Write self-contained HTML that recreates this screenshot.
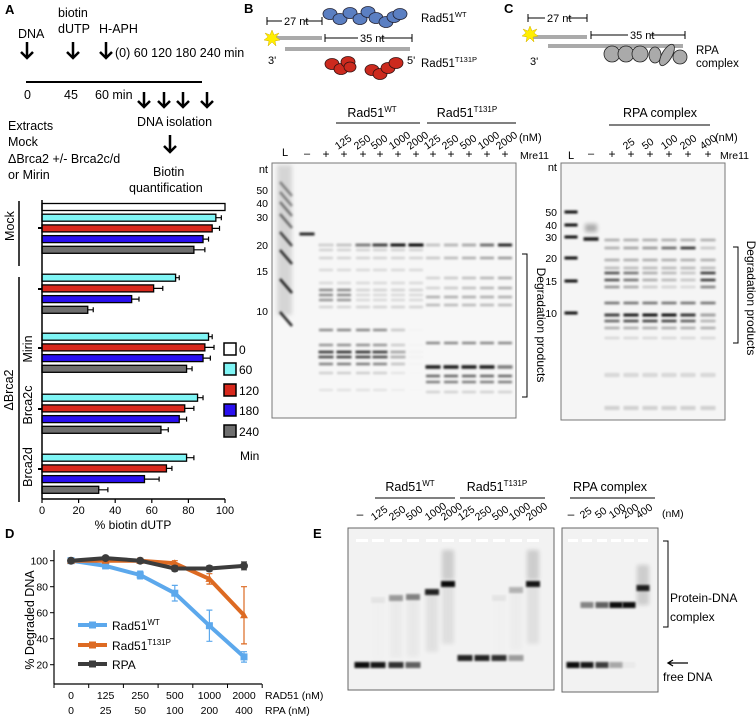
<!DOCTYPE html>
<html><head><meta charset="utf-8">
<style>
html,body{margin:0;padding:0;background:#fff;}
svg{display:block;font-family:"Liberation Sans",sans-serif;}
</style></head>
<body>
<svg id="fig" width="756" height="717" viewBox="0 0 756 717" xmlns="http://www.w3.org/2000/svg">
<defs>
<filter id="blur1" x="-50%" y="-200%" width="200%" height="500%"><feGaussianBlur stdDeviation="1.1"/></filter>
<filter id="blur2" x="-50%" y="-200%" width="200%" height="500%"><feGaussianBlur stdDeviation="2"/></filter>
</defs>

<g font-size="12.5">
<text x="5" y="14" font-weight="bold" font-size="13">A</text>
<text x="18" y="38">DNA</text>
<text x="58" y="17">biotin</text>
<text x="58" y="33">dUTP</text>
<text x="99" y="33">H-APH</text>
<text x="115" y="57">(0) 60 120 180 240 min</text>
<line x1="26" y1="82" x2="202" y2="82" stroke="#000" stroke-width="2"/>
<text x="24" y="99">0</text><text x="64" y="99">45</text><text x="95" y="99">60 min</text>
<text x="137" y="126">DNA isolation</text>
<text x="153" y="176">Biotin</text>
<text x="129" y="192">quantification</text>
<text x="8" y="130">Extracts</text>
<text x="8" y="146">Mock</text>
<text x="8" y="163">ΔBrca2  +/- Brca2c/d</text>
<text x="8" y="179">or Mirin</text>
<g stroke="#000" stroke-width="2.5" fill="none">
<path d="M27 42 V58 M21 52 L27 58 L33 52"/>
<path d="M73 42 V58 M67 52 L73 58 L79 52"/>
<path d="M106 42 V58 M100 52 L106 58 L112 52"/>
<path d="M144 92 V107 M138 101 L144 107 L150 101"/>
<path d="M164 92 V107 M158 101 L164 107 L170 101"/>
<path d="M183 92 V107 M177 101 L183 107 L189 101"/>
<path d="M207 92 V107 M201 101 L207 107 L213 101"/>
<path d="M170 135 V152 M164 146 L170 152 L176 146"/>
</g>
</g>

<g id="barchart"></g>
<g id="linechart"></g>

<g>
<text x="244" y="13" font-weight="bold" font-size="13">B</text>
<g stroke="#000" stroke-width="1"><line x1="267" y1="21" x2="322" y2="21"/><line x1="267" y1="17" x2="267" y2="25"/><line x1="322" y1="17" x2="322" y2="25"/>
<line x1="325" y1="38" x2="412" y2="38"/><line x1="325" y1="34" x2="325" y2="42"/><line x1="412" y1="34" x2="412" y2="42"/></g>
<rect x="282" y="18" width="22" height="7" fill="#fff"/><text x="284" y="25" font-size="11">27 nt</text>
<rect x="358" y="35" width="22" height="7" fill="#fff"/><text x="360" y="42" font-size="11">35 nt</text>
<rect x="272" y="36" width="50" height="4" fill="#aaa"/>
<rect x="285" y="47" width="125" height="4" fill="#aaa"/>
<polygon points="272,30 274,35 279,33 276,37 280,40 275,41 276,46 272,42 268,46 269,41 264,40 268,37 265,33 270,35" fill="#ffee00" stroke="#d4b000" stroke-width="0.5"/>
<text x="268" y="64" font-size="11">3'</text><text x="407" y="64" font-size="11">5'</text>
<g fill="#5b7fc2" stroke="#223" stroke-width="0.8">
<ellipse cx="330" cy="14" rx="7" ry="5.5"/><ellipse cx="340" cy="19" rx="7" ry="5.5"/><ellipse cx="350" cy="13" rx="7" ry="5.5"/><ellipse cx="360" cy="19" rx="7" ry="5.5"/><ellipse cx="368" cy="12" rx="7" ry="5.5"/><ellipse cx="376" cy="18" rx="7" ry="5.5"/><ellipse cx="386" cy="22" rx="7" ry="5.5"/><ellipse cx="394" cy="17" rx="7" ry="5.5"/><ellipse cx="400" cy="14" rx="7" ry="5.5"/>
</g>
<g fill="#cc2a1e" stroke="#311" stroke-width="0.8">
<ellipse cx="332" cy="64" rx="7" ry="5.5"/><ellipse cx="341" cy="69" rx="7" ry="5.5"/><ellipse cx="348" cy="62" rx="7" ry="5.5"/><ellipse cx="350" cy="67" rx="6" ry="5"/>
<ellipse cx="372" cy="70" rx="7" ry="5.5"/><ellipse cx="380" cy="74" rx="7" ry="5.5"/><ellipse cx="388" cy="68" rx="7" ry="5.5"/><ellipse cx="396" cy="63" rx="7" ry="5.5"/>
</g>
<text x="421" y="22" font-size="11.5">Rad51<tspan font-size="7.5" dy="-5">WT</tspan></text>
<text x="421" y="67" font-size="11.5">Rad51<tspan font-size="7.5" dy="-5">T131P</tspan></text>
</g>

<g>
<text x="504" y="13" font-weight="bold" font-size="13">C</text>
<g stroke="#000" stroke-width="1"><line x1="528" y1="18" x2="587" y2="18"/><line x1="528" y1="14" x2="528" y2="22"/><line x1="587" y1="14" x2="587" y2="22"/>
<line x1="591" y1="35" x2="685" y2="35"/><line x1="591" y1="31" x2="591" y2="39"/><line x1="685" y1="31" x2="685" y2="39"/></g>
<rect x="545" y="14" width="22" height="7" fill="#fff"/><text x="547" y="22" font-size="11">27 nt</text>
<rect x="628" y="31" width="22" height="7" fill="#fff"/><text x="630" y="39" font-size="11">35 nt</text>
<rect x="530" y="35" width="57" height="4" fill="#aaa"/>
<rect x="548" y="44" width="135" height="4" fill="#aaa"/>
<polygon points="530,26 532,31 537,29 534,33 538,36 533,37 534,42 530,38 526,42 527,37 522,36 526,33 523,29 528,31" fill="#ffee00" stroke="#d4b000" stroke-width="0.5"/>
<text x="530" y="65" font-size="11">3'</text>
<g fill="#aaa" stroke="#222" stroke-width="0.8">
<ellipse cx="612" cy="54" rx="8" ry="8"/><ellipse cx="626" cy="54" rx="8" ry="8"/><ellipse cx="640" cy="54" rx="8" ry="8"/><ellipse cx="655" cy="55" rx="6" ry="8"/>
<ellipse cx="667" cy="55" rx="5" ry="12" transform="rotate(30 667 55)"/><ellipse cx="680" cy="57" rx="7" ry="7"/>
</g>
<text x="696" y="54" font-size="11.5">RPA</text>
<text x="696" y="67" font-size="11.5">complex</text>
</g>

<g id="gels"></g>

<text x="313" y="538" font-weight="bold" font-size="13">E</text>
</svg>

<script>
const NS='http://www.w3.org/2000/svg';
function mk(parent,tag,attrs,txt){const e=document.createElementNS(NS,tag);for(const k in attrs)e.setAttribute(k,attrs[k]);if(txt!==undefined)e.textContent=txt;parent.appendChild(e);return e;}

const barGroups=['Mock','ΔBrca2','Mirin','Brca2c','Brca2d'];
const timeLabels=['0','60','120','180','240'];
const mockVals=[100,95,93,88,83];
const mockErr=[0,3,4,3,6];
const brca2Vals=[null,73,61,49,25];
const brca2Err=[0,2,5,4,3];
const mirinVals=[null,91,89,88,79];
const mirinErr=[0,2,5,4,3];
const brca2cVals=[null,85,78,75,65];
const brca2cErr=[0,3,5,4,4];
const brca2dVals=[null,79,68,56,31];
const brca2dErr=[0,4,3,8,5];
const barTicks=[0,20,40,60,80,100];

(function(){
 const g=document.getElementById('barchart');
 const colors=['#ffffff','#7ff5f5','#d8281c','#2a10f0','#6e6e6e'];
 const x=v=>42+v*1.83;
 const groupTop=[207,267,326,387,447];
 const pitch=10.7;
 const vals=[mockVals,brca2Vals,mirinVals,brca2cVals,brca2dVals];
 const errs=[mockErr,brca2Err,mirinErr,brca2cErr,brca2dErr];
 vals.forEach((arr,gi)=>{
  arr.forEach((v,i)=>{
   if(v===null)return;
   const cy=groupTop[gi]+i*pitch;
   const r=mk(g,'rect',{x:x(0),y:cy-3.5,width:x(v)-x(0),height:7,fill:colors[i],stroke:'#000','stroke-width':1.3});
   
   
   const e=errs[gi][i];
   if(e>0){
    mk(g,'path',{d:`M${x(v)} ${cy} H${x(v+e)} M${x(v+e)} ${cy-2.5} V${cy+2.5}`,stroke:'#000','stroke-width':1.2,fill:'none'});
   }
  });
 });
 mk(g,'line',{x1:42,y1:200,x2:42,y2:499,stroke:'#000','stroke-width':1.5});
 mk(g,'line',{x1:42,y1:499,x2:225,y2:499,stroke:'#000','stroke-width':1.5});
 barTicks.forEach(t=>{
  mk(g,'line',{x1:x(t),y1:499,x2:x(t),y2:503,stroke:'#000','stroke-width':1.2});
  const tl=mk(g,'text',{x:x(t),y:514,'text-anchor':'middle','font-size':11},String(t));
  
  
 });
 const xt=mk(g,'text',{x:133,y:529,'text-anchor':'middle','font-size':12},'% biotin dUTP');
 
 
 [228,289,348,409,469].forEach(y=>mk(g,'line',{x1:38,y1:y,x2:42,y2:y,stroke:'#000','stroke-width':2}));
 mk(g,'line',{x1:19,y1:201,x2:19,y2:266,stroke:'#000','stroke-width':1.5});
 mk(g,'line',{x1:19,y1:277,x2:19,y2:502,stroke:'#000','stroke-width':1.5});
 const lab=(t,cx,cy)=>{const e=mk(g,'text',{x:cx,y:cy,'text-anchor':'middle','font-size':12.5,transform:`rotate(-90 ${cx} ${cy})`},t);};
 lab('Mock',14,226);lab('ΔBrca2',13,390);lab('Mirin',32,349);lab('Brca2c',32,405);lab('Brca2d',32,467);
 const ly=[349,369,390,410,431];
 timeLabels.forEach((t,i)=>{
  const b=mk(g,'rect',{x:224,y:ly[i]-6,width:12,height:12,fill:colors[i],stroke:'#000','stroke-width':1.5});
  
  
  const e=mk(g,'text',{x:239,y:ly[i]+5,'font-size':12},t);
  
  
 });
 mk(g,'text',{x:240,y:460,'font-size':12},'Min');
})();

const doseRad51=['0','125','250','500','1000','2000'];
const doseRPA=['0','25','50','100','200','400'];
const wtVals=[100,96,89,75,50,26];
const wtErr=[0,2,3,6,12,4];
const t131pVals=[100,100,100,98,86,58];
const t131pErr=[0,1,2,2,4,22];
const rpaVals=[100,102,100,94,94,96];
const rpaErr=[1,1,1,2,2,3];
const yTicksD=[20,40,60,80,100];

(function(){
 const g=document.getElementById('linechart');
 mk(g,'text',{x:5,y:538,'font-weight':'bold','font-size':13},'D');
 const y=v=>560.7+(100-v)*1.3;
 const x=i=>71+i*34.6;
 mk(g,'line',{x1:54,y1:550,x2:54,y2:684,stroke:'#000','stroke-width':1.2});
 mk(g,'line',{x1:54,y1:684,x2:262,y2:684,stroke:'#000','stroke-width':1.2});
 yTicksD.forEach(t=>{mk(g,'line',{x1:50,y1:y(t),x2:54,y2:y(t),stroke:'#000'});
  const e=mk(g,'text',{x:48,y:y(t)+4,'text-anchor':'end','font-size':10.5},String(t));});
 for(let k=0;k<7;k++){const tx=54+k*34.7;mk(g,'line',{x1:tx,y1:684,x2:tx,y2:688,stroke:'#000'});}
 doseRad51.forEach((d,i)=>{const e=mk(g,'text',{x:x(i),y:699,'text-anchor':'middle','font-size':10.5},d);});
 doseRPA.forEach((d,i)=>{const e=mk(g,'text',{x:x(i),y:714,'text-anchor':'middle','font-size':10.5},d);});
 mk(g,'text',{x:265,y:699,'font-size':10.5},'RAD51 (nM)');
 mk(g,'text',{x:265,y:714,'font-size':10.5},'RPA (nM)');
 const yt=mk(g,'text',{x:34,y:620,'text-anchor':'middle','font-size':12.5,transform:'rotate(-90 34 620)'},'% Degraded DNA');
 
 const series=[['rad51-wt',wtVals,wtErr,'#5ca8ec','sq'],['rad51-t131p',t131pVals,t131pErr,'#dd6a22','tri'],['rpa',rpaVals,rpaErr,'#3c3c3c','dot']];
 series.forEach(([nm,vals,err,col,mkr])=>{
  let d='';vals.forEach((v,i)=>{d+=(i?'L':'M')+x(i)+' '+y(v)+' ';});
  const p=mk(g,'path',{d:d,stroke:col,'stroke-width':4,fill:'none','stroke-linejoin':'round'});
  
  vals.forEach((v,i)=>{
   if(err[i]>0)mk(g,'path',{d:`M${x(i)} ${y(v+err[i])} V${y(v-err[i])} M${x(i)-3} ${y(v+err[i])} h6 M${x(i)-3} ${y(v-err[i])} h6`,stroke:col,'stroke-width':1.2,fill:'none'});
   let m;
   if(mkr==='sq')m=mk(g,'rect',{x:x(i)-3.5,y:y(v)-3.5,width:7,height:7,fill:col});
   else if(mkr==='tri')m=mk(g,'path',{d:`M${x(i)} ${y(v)-4} L${x(i)+4} ${y(v)+3} L${x(i)-4} ${y(v)+3}Z`,fill:col});
   else m=mk(g,'circle',{cx:x(i),cy:y(v),r:4,fill:col});
   
   
  });
 });
 const leg=[['Rad51','WT','#5ca8ec',625],['Rad51','T131P','#dd6a22',645],['RPA','','#3c3c3c',664]];
 leg.forEach(([a,b,c,ly])=>{
  mk(g,'line',{x1:78,y1:ly,x2:107,y2:ly,stroke:c,'stroke-width':4});
  mk(g,'rect',{x:89,y:ly-3.5,width:7,height:7,fill:c});
  const t=mk(g,'text',{x:112,y:ly+5,'font-size':12});
  
  
  t.textContent=a;
  if(b){mk(t,'tspan',{'font-size':8,dy:-5},b);}
 });
})();

(function(){
 const g=document.getElementById('gels');
 const band=(x,y,w,op,h,blur)=>mk(g,'rect',{x:x-w/2,y:y-(h||2.5)/2,width:w,height:h||2.5,fill:'#000',opacity:op,filter:'url(#'+(blur||'blur1')+')'});
 const txt=(x,y,t,o)=>{const a=Object.assign({x:x,y:y,'font-size':11},o||{});return mk(g,'text',a,t);};
 const rot=(x,y,t,fs)=>mk(g,'text',{x:x,y:y,'font-size':fs||11,transform:`rotate(-35 ${x} ${y})`},t);

 mk(g,'rect',{x:272,y:163,width:244,height:255,fill:'#f7f7f7',stroke:'#777','stroke-width':1,});
 txt(372,117,'',{'font-size':12.5,'text-anchor':'middle'}).innerHTML='Rad51<tspan font-size="8" dy="-5">WT</tspan>';
 txt(467,117,'',{'font-size':12.5,'text-anchor':'middle'}).innerHTML='Rad51<tspan font-size="8" dy="-5">T131P</tspan>';
 mk(g,'line',{x1:336,y1:123,x2:420,y2:123,stroke:'#000'});
 mk(g,'line',{x1:427,y1:123,x2:516,y2:123,stroke:'#000'});
 const bl=[285,307,326,344,363,380,398,416,433,451,469,487,505];
 const concB=['125','250','500','1000','2000','125','250','500','1000','2000'];
 concB.forEach((c,i)=>rot(bl[i+3]-6,150,c,10.5));
 txt(519,141,'(nM)');
 txt(285,156,'L',{'text-anchor':'middle'});txt(307,157,'–',{'text-anchor':'middle'});
 for(let i=2;i<13;i++)txt(bl[i],158,'+',{'text-anchor':'middle','font-size':12});
 txt(520,159,'Mre11',{'font-size':10.5});
 txt(268,173,'nt',{'text-anchor':'end'});
 [['50',190],['40',203],['30',217],['20',245],['15',271],['10',311]].forEach(([t,y])=>txt(268,y+4,t,{'text-anchor':'end','font-size':10.5}));
 mk(g,'rect',{x:277,y:165,width:15,height:150,fill:'#999',opacity:0.35,filter:'url(#blur2)'});
 [[190,0.4],[200,0.4],[210,0.45],[222,0.5],[240,0.7],[258,0.8],[287,0.85],[320,0.85]].forEach(([y,o])=>mk(g,'path',{d:`M280 ${y-8} L292 ${y+6}`,stroke:'#000','stroke-width':2.5,opacity:o,filter:'url(#blur1)'}));
 band(307,234,15,0.85,3);
 const wt20=[0.15,0.2,0.5,0.75,0.95,1.0];
 const wtProd=[0.8,0.85,0.85,0.8,0.35,0.02];
 for(let k=0;k<6;k++){const x=bl[2+k];
  band(x,245,15,wt20[k],3);
  band(x,250,14,0.15);band(x,258,14,0.15);band(x,270,14,0.12);band(x,283,14,0.12);
  band(x,290,14,k<2?0.45:0.15);band(x,295,14,k<2?0.45:0.12);band(x,300,14,k<2?0.4:0.12);band(x,307,14,0.15);
  band(x,330,14,wtProd[k]*0.55);band(x,345,14,wtProd[k]*0.5);
  band(x,352,15,wtProd[k]);band(x,357,15,wtProd[k]*0.9);band(x,364,14,wtProd[k]*0.6);band(x,373,14,wtProd[k]*0.2);band(x,390,14,wtProd[k]*0.1);
 }
 const tp20=[0.2,0.25,0.3,0.55,0.85];
 for(let k=0;k<5;k++){const x=bl[8+k];
  band(x,245,14,tp20[k],3);band(x,258,14,0.2+k*0.05);band(x,278,14,0.15+k*0.04);band(x,288,14,0.15+k*0.04);
  band(x,297,14,0.3);band(x,305,14,0.25);band(x,343,14,0.45);
  band(x,367,15,k<4?0.9:0.5,3.5);band(x,376,14,0.6);band(x,382,14,0.5);band(x,392,14,0.15);
 }
 mk(g,'path',{d:'M522 254 H527 V397 H522',stroke:'#000',fill:'none'});
 mk(g,'text',{x:537,y:325,'font-size':12,'text-anchor':'middle',transform:'rotate(90 537 325)'},'Degradation products');

 mk(g,'rect',{x:561,y:163,width:164,height:257,fill:'#f5f5f5',stroke:'#777','stroke-width':1,});
 txt(660,117,'RPA complex',{'font-size':12.5,'text-anchor':'middle'});
 mk(g,'line',{x1:609,y1:125,x2:710,y2:125,stroke:'#000'});
 const cl=[571,591,612,631,650,669,688,708];
 ['25','50','100','200','400'].forEach((c,i)=>rot(cl[i+3]-5,150,c,10.5));
 txt(715,141,'(nM)');
 txt(571,159,'L',{'text-anchor':'middle'});txt(591,157,'–',{'text-anchor':'middle'});
 for(let i=2;i<8;i++)txt(cl[i],158,'+',{'text-anchor':'middle','font-size':12});
 txt(720,159,'Mre11',{'font-size':10.5});
 txt(557,171,'nt',{'text-anchor':'end'});
 [['50',212],['40',225],['30',237],['20',258],['15',281],['10',313]].forEach(([t,y])=>txt(557,y+4,t,{'text-anchor':'end','font-size':10.5}));
 [212,225,237,258,281,313].forEach(y=>band(571,y,13,0.95,3));
 band(591,239,15,0.9,3.5);band(591,228,12,0.3,8,'blur2');
 const c15=[0.7,0.55,0.3,0.25,0.2,0.8];
 const c10=[0.75,0.9,0.95,0.95,0.8,0.35];
 const c25=[0.3,0.35,0.4,0.6,0.85,0.2];
 for(let k=0;k<6;k++){const x=cl[2+k];
  band(x,240,15,0.3);band(x,248,15,c25[k]);band(x,260,15,0.3);band(x,268,15,0.25);
  band(x,273,15,c15[k]);band(x,280,15,c15[k]);band(x,287,15,c15[k]*0.6);
  band(x,303,15,0.55);band(x,315,15,c10[k],3);band(x,321,15,c10[k]*0.8);band(x,328,15,0.3);
  band(x,338,15,0.12);band(x,375,15,0.12,4);band(x,408,15,0.15,4);
 }
 mk(g,'path',{d:'M733 247 H738 V343 H733',stroke:'#000',fill:'none'});
 mk(g,'text',{x:747,y:298,'font-size':12,'text-anchor':'middle',transform:'rotate(90 747 298)'},'Degradation products');

 mk(g,'rect',{x:348,y:528,width:206,height:162,fill:'#f2f2f2',stroke:'#666','stroke-width':1,});
 mk(g,'rect',{x:562,y:528,width:96,height:164,fill:'#f2f2f2',stroke:'#666','stroke-width':1,});
 const el=[362,378,396,413,432,448,465,482,499,516,533];
 const el2=[573,587,602,616,629,643];
 el.forEach(x=>mk(g,'rect',{x:x-6,y:539,width:12,height:3,fill:'#fff'}));
 el2.forEach(x=>mk(g,'rect',{x:x-5,y:539,width:10,height:3,fill:'#fff'}));
 txt(410,491,'',{'font-size':12.5,'text-anchor':'middle'}).innerHTML='Rad51<tspan font-size="8" dy="-5">WT</tspan>';
 txt(497,491,'',{'font-size':12.5,'text-anchor':'middle'}).innerHTML='Rad51<tspan font-size="8" dy="-5">T131P</tspan>';
 txt(610,491,'RPA complex',{'font-size':12.5,'text-anchor':'middle'});
 mk(g,'line',{x1:375,y1:498,x2:455,y2:498,stroke:'#000'});
 mk(g,'line',{x1:460,y1:498,x2:545,y2:498,stroke:'#000'});
 mk(g,'line',{x1:570,y1:498,x2:655,y2:498,stroke:'#000'});
 txt(360,518,'–',{'text-anchor':'middle','font-size':12});
 txt(571,518,'–',{'text-anchor':'middle','font-size':12});
 ['125','250','500','1000','2000'].forEach((c,i)=>rot(el[i+1]-4,521,c,10.5));
 ['125','250','500','1000','2000'].forEach((c,i)=>rot(el[i+6]-4,521,c,10.5));
 ['25','50','100','200','400'].forEach((c,i)=>rot(el2[i+1]-4,519,c,10.5));
 txt(662,517,'(nM)',{'font-size':10.5});
 const freeA=[0.95,0.9,0.8,0.6,0,0,0.85,0.85,0.8,0.35,0];
 const cplxA=[0,0.05,0.35,0.45,0.85,0.95,0,0,0.05,0.25,0.9];
 const cplxY=[0,600,598,597,592,584,0,0,598,590,584];
 el.forEach((x,i)=>{
  if(freeA[i]>0)band(x,i<6?665:658,15,freeA[i],6);
  if(cplxA[i]>0){band(x,cplxY[i],14,cplxA[i],6);mk(g,'rect',{x:x-6,y:cplxY[i],width:12,height:60,fill:'#000',opacity:cplxA[i]*0.08,filter:'url(#blur2)'});}
  if(i===5||i===10)mk(g,'rect',{x:x-6,y:550,width:12,height:30,fill:'#000',opacity:0.15,filter:'url(#blur2)'});
 });
 const free2=[0.95,0.9,0.75,0.3,0.03,0];
 const cplx2=[0,0.45,0.6,0.95,0.95,0.85];
 el2.forEach((x,i)=>{
  if(free2[i]>0)band(x,665,13,free2[i],6);
  if(cplx2[i]>0)band(x,i<5?605:588,13,cplx2[i],6);
 });
 mk(g,'rect',{x:637,y:565,width:12,height:40,fill:'#000',opacity:0.15,filter:'url(#blur2)'});
 mk(g,'path',{d:'M663 541 H668 V627 H663',stroke:'#000',fill:'none'});
 txt(670,602,'Protein-DNA',{'font-size':12});
 txt(670,621,'complex',{'font-size':12});
 mk(g,'path',{d:'M688 663 H668 M673 660 L668 663 L673 666',stroke:'#000','stroke-width':1.3,fill:'none'});
 txt(663,681,'free DNA',{'font-size':12});
})();
</script>
</body></html>
